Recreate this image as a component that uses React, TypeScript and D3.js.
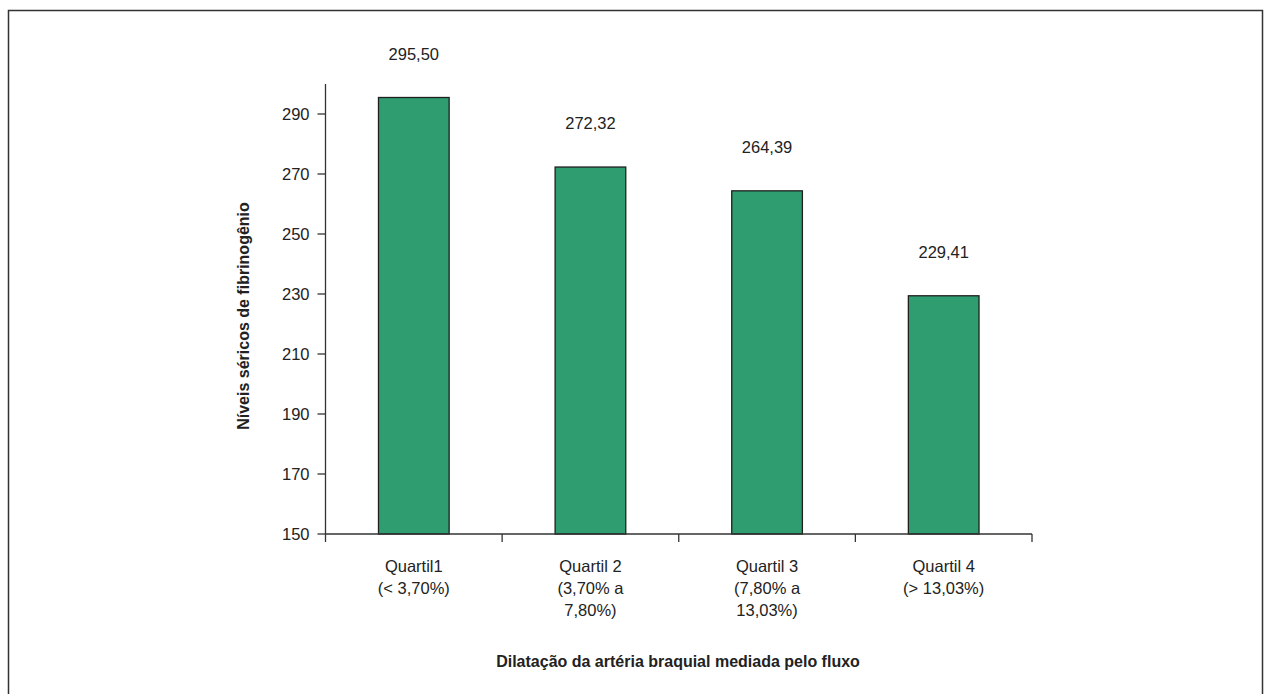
import React from "react";
import * as d3 from "d3";

const categories = ["Quartil1", "Quartil 2", "Quartil 3", "Quartil 4"];
const categoryLabels = [
  ["Quartil1", "(< 3,70%)"],
  ["Quartil 2", "(3,70% a", "7,80%)"],
  ["Quartil 3", "(7,80% a", "13,03%)"],
  ["Quartil 4", "(> 13,03%)"],
];
const values = [295.5, 272.32, 264.39, 229.41];
const valueLabels = ["295,50", "272,32", "264,39", "229,41"];
const yTicks = [150, 170, 190, 210, 230, 250, 270, 290];
const yTitle = "Níveis séricos de fibrinogênio";
const xTitle = "Dilatação da artéria braquial mediada pelo fluxo";

export default function App() {
  const W = 1266, H = 694;
  const x0 = 325.5, x1 = 1032, yBase = 534;
  const y = d3.scaleLinear().domain([150, 300]).range([yBase, 84]);
  const x = d3.scaleBand<string>().domain(categories).range([x0, x1]).paddingInner(0.6).paddingOuter(0.3);
  const step = x.step();
  const boundaries = d3.range(categories.length + 1).map((i) => x0 + i * step);
  const font = "'Liberation Sans', Arial, sans-serif";
  const axisColor = "#333";
  return (
    <svg width={W} height={H} style={{ position: "absolute", left: 0, top: 0, background: "#fff" }} fontFamily={font}>
      <rect x={8.5} y={10.5} width={1254} height={700} fill="#fff" stroke="#333" strokeWidth={1.5} />
      {/* y axis */}
      <line x1={x0} x2={x0} y1={84} y2={yBase} stroke={axisColor} strokeWidth={1.3} />
      {yTicks.map((t) => (
        <g key={t}>
          <line x1={x0 - 8} x2={x0} y1={y(t)} y2={y(t)} stroke={axisColor} strokeWidth={1.3} />
          <text x={x0 - 16} y={y(t)} dy="0.35em" textAnchor="end" fontSize={16.5} fill="#222">
            {t}
          </text>
        </g>
      ))}
      {/* bars */}
      {categories.map((c, i) => (
        <g key={c}>
          <rect
            x={x(c)!}
            y={y(values[i])}
            width={x.bandwidth()}
            height={yBase - y(values[i])}
            fill="#2f9d70"
            stroke="#1f1f1f"
            strokeWidth={1.3}
          />
          <text x={x(c)! + x.bandwidth() / 2} y={y(values[i]) - 38} textAnchor="middle" fontSize={16.5} fill="#222">
            {valueLabels[i]}
          </text>
          {categoryLabels[i].map((l, j) => (
            <text key={j} x={x(c)! + x.bandwidth() / 2} y={572 + j * 22} textAnchor="middle" fontSize={16.5} fill="#222">
              {l}
            </text>
          ))}
        </g>
      ))}
      {/* x axis */}
      <line x1={x0} x2={x1} y1={yBase} y2={yBase} stroke={axisColor} strokeWidth={1.3} />
      {boundaries.map((b, i) => (
        <line key={i} x1={b} x2={b} y1={yBase} y2={yBase + 8} stroke={axisColor} strokeWidth={1.3} />
      ))}
      <text x={678} y={667} textAnchor="middle" fontSize={16} fontWeight="bold" fill="#222">
        {xTitle}
      </text>
      <text transform={`translate(249,316) rotate(-90)`} textAnchor="middle" fontSize={16} fontWeight="bold" fill="#222">
        {yTitle}
      </text>
    </svg>
  );
}
